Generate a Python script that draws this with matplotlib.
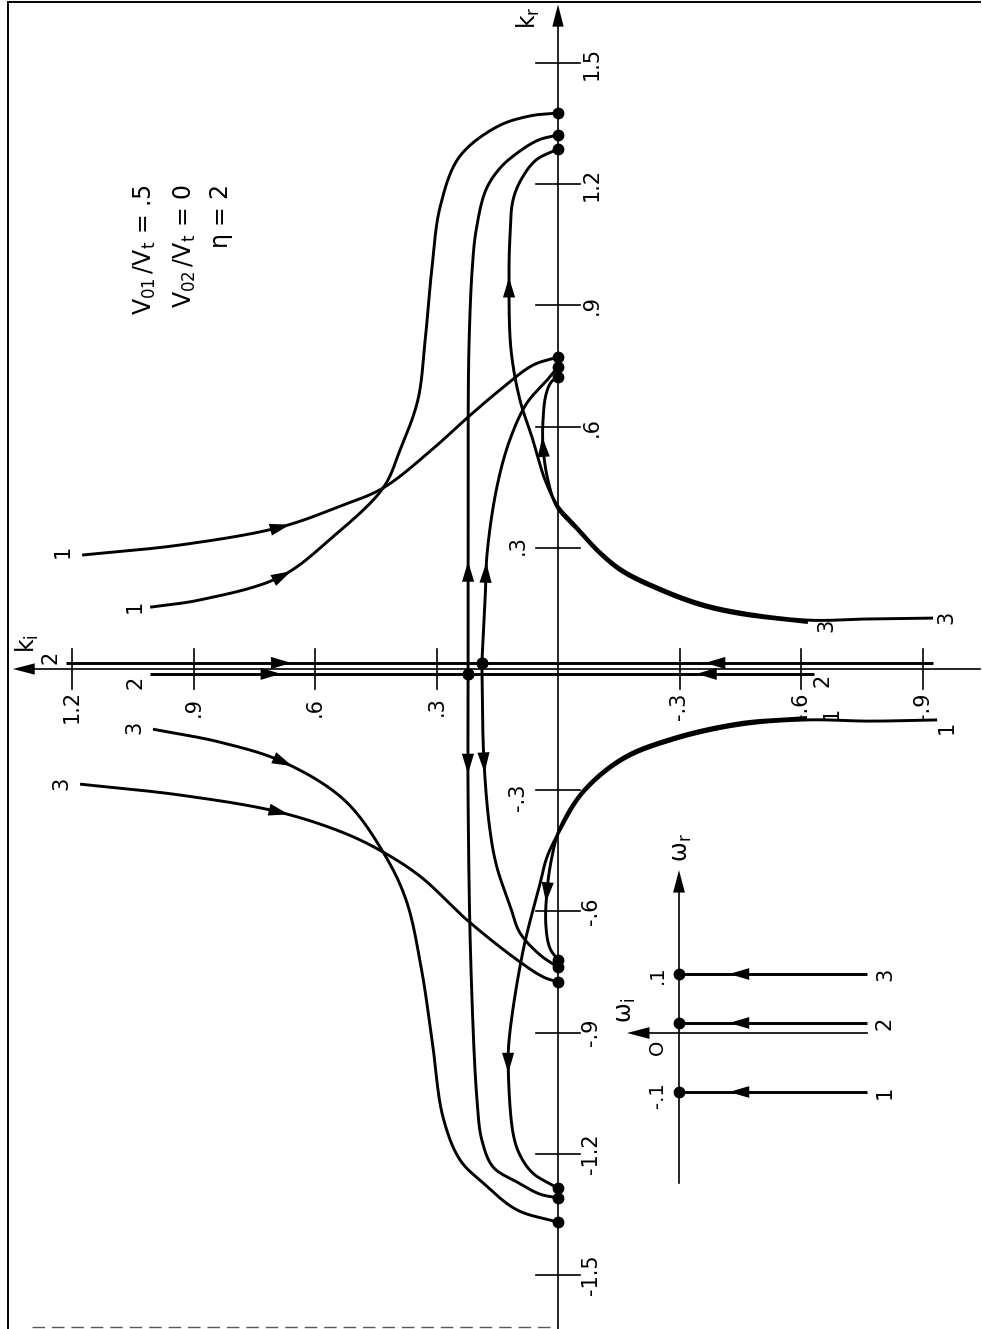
import numpy as np
import matplotlib
matplotlib.use("Agg")
import matplotlib.pyplot as plt

plt.rcParams['font.family'] = ['DejaVu Sans']
plt.rcParams['mathtext.default'] = 'regular'

# ---- k-plane loci (k_i, k_r) for the three omega_r cases ----
# case 1, upper half, coming in from large positive k_i
ki_1a = [1.175, 0.933, 0.686, 0.538, 0.432, 0.309, 0.225, 0.143, 0.062, 0.0]
kr_1a = [0.282, 0.307, 0.351, 0.403, 0.448, 0.545, 0.621, 0.691, 0.752, 0.772]
ki_1b = [1.007, 0.884, 0.686, 0.556, 0.432, 0.390, 0.346, 0.328, 0.311, 0.291, 0.244, 0.151, 0.069, 0.0]
kr_1b = [0.153, 0.171, 0.228, 0.327, 0.448, 0.542, 0.666, 0.814, 0.995, 1.144, 1.267, 1.342, 1.369, 1.376]

# case 1, lower half, coming in from large negative k_i
ki_1a_lo = [-0.615, -0.449, -0.284, -0.160, -0.062, -0.005, 0.015, 0.027, 0.030, 0.020, 0.0]
kr_1a_lo = [-0.120, -0.133, -0.170, -0.219, -0.301, -0.393, -0.465, -0.547, -0.634, -0.691, -0.720]
ki_1b_lo = [-0.936, -0.770, -0.615, -0.449, -0.284, -0.160, -0.062, -0.005, 0.027, 0.044,
            0.086, 0.119, 0.123, 0.111, 0.094, 0.062, 0.0]
kr_1b_lo = [-0.126, -0.129, -0.126, -0.139, -0.176, -0.225, -0.307, -0.399, -0.465, -0.530,
            -0.696, -0.901, -0.975, -1.149, -1.203, -1.248, -1.285]

# case 2, along the k_i axis to the saddle, then up and down
kr_2_upper = 0.015
kr_2_lower = -0.012
ki_2_upper = [1.215, 0.188, -0.926]
ki_2_lower = [1.007, 0.222, -0.632]
ki_2a_up = [0.222, 0.222, 0.222, 0.220, 0.212, 0.202, 0.178, 0.143, 0.101, 0.049, 0.0]
kr_2a_up = [-0.012, 0.270, 0.542, 0.790, 0.988, 1.087, 1.186, 1.240, 1.277, 1.309, 1.322]
ki_2a_dn = [0.222, 0.222, 0.215, 0.200, 0.188, 0.160, 0.101, 0.044, 0.0]
kr_2a_dn = [-0.012, -0.324, -0.738, -1.067, -1.166, -1.233, -1.270, -1.300, -1.309]
ki_2b_up = [0.188, 0.180, 0.175, 0.151, 0.119, 0.077, 0.027, 0.0]
kr_2b_up = [0.015, 0.171, 0.287, 0.450, 0.567, 0.658, 0.715, 0.748]
ki_2b_dn = [0.188, 0.183, 0.168, 0.151, 0.119, 0.094, 0.044, 0.0]
kr_2b_dn = [0.015, -0.225, -0.399, -0.490, -0.584, -0.653, -0.708, -0.738]

# case 3, upper half, coming in from large negative k_i
ki_3a = [-0.617, -0.449, -0.351, -0.252, -0.160, -0.104, -0.049, 0.002, 0.025, 0.037,
         0.037, 0.030, 0.017, 0.0]
kr_3a = [0.115, 0.135, 0.157, 0.194, 0.239, 0.284, 0.343, 0.400, 0.468, 0.550,
         0.616, 0.678, 0.710, 0.723]
ki_3b = [-0.926, -0.770, -0.617, -0.449, -0.351, -0.252, -0.160, -0.104, -0.049, 0.002,
         0.032, 0.062, 0.094, 0.116, 0.121, 0.119, 0.111, 0.089, 0.054, 0.0]
kr_3b = [0.126, 0.124, 0.121, 0.141, 0.163, 0.200, 0.245, 0.290, 0.349, 0.406,
         0.468, 0.567, 0.666, 0.790, 0.955, 1.062, 1.161, 1.215, 1.260, 1.287]

# case 3, lower half, coming in from large positive k_i
ki_3a_lo = [1.180, 0.933, 0.689, 0.528, 0.432, 0.338, 0.225, 0.101, 0.037, 0.0]
kr_3a_lo = [-0.285, -0.312, -0.354, -0.406, -0.453, -0.515, -0.621, -0.720, -0.762, -0.775]
ki_3b_lo = [1.000, 0.835, 0.679, 0.528, 0.432, 0.375, 0.338, 0.311, 0.284, 0.242, 0.185, 0.101, 0.0]
kr_3b_lo = [-0.149, -0.181, -0.230, -0.324, -0.453, -0.572, -0.738, -0.918, -1.109, -1.215,
            -1.272, -1.339, -1.369]

# axis ticks (the +-.3 labels on k_r sit left of the axis, clear of the loci)
kr_ticks = [1.5, 1.2, 0.9, 0.6, 0.3, -0.3, -0.6, -0.9, -1.2, -1.5]
kr_tick_labels = ['1.5', '1.2', '.9', '.6', '.3', '-.3', '-.6', '-.9', '-1.2', '-1.5']
kr_label_left = [False, False, False, False, True, True, False, False, False, False]
ki_ticks = [1.2, 0.9, 0.6, 0.3, -0.3, -0.6, -0.9]
ki_tick_labels = ['1.2', '.9', '.6', '.3', '-.3', '-.6', '-.9']

# omega-plane paths: omega_i runs from -0.32 up to 0 at fixed omega_r
omega_r_paths = [0.1, 0.017, -0.1]
omega_r_names = ['3', '2', '1']
omega_i_start = -0.319

params = [r'$V_{01}\,/V_t$ = .5', r'$V_{02}\,/V_t$ = 0', r'$\eta$ = 2']


def smooth(ki, kr, n=30):
    # centripetal Catmull-Rom through the read points, x = -k_i
    p = np.column_stack([-np.asarray(ki, float), np.asarray(kr, float)])
    p = np.vstack([2 * p[0] - p[1], p, 2 * p[-1] - p[-2]])
    out = []
    for i in range(1, len(p) - 2):
        p0, p1, p2, p3 = p[i - 1], p[i], p[i + 1], p[i + 2]
        t0 = 0.0
        t1 = t0 + np.hypot(*(p1 - p0)) ** 0.5
        t2 = t1 + np.hypot(*(p2 - p1)) ** 0.5
        t3 = t2 + np.hypot(*(p3 - p2)) ** 0.5
        t = np.linspace(t1, t2, n)[:, None]
        a1 = (t1 - t) / (t1 - t0) * p0 + (t - t0) / (t1 - t0) * p1
        a2 = (t2 - t) / (t2 - t1) * p1 + (t - t1) / (t2 - t1) * p2
        a3 = (t3 - t) / (t3 - t2) * p2 + (t - t2) / (t3 - t2) * p3
        b1 = (t2 - t) / (t2 - t0) * a1 + (t - t0) / (t2 - t0) * a2
        b2 = (t3 - t) / (t3 - t1) * a2 + (t - t1) / (t3 - t1) * a3
        c = (t2 - t) / (t2 - t1) * b1 + (t - t1) / (t2 - t1) * b2
        out.append(c if i == 1 else c[1:])
    c = np.vstack(out)
    return c[:, 0], c[:, 1]


def arrow_head(ax, xs, ys, at, length=0.05, width=0.03):
    i = np.argmin((xs - at[0]) ** 2 + (ys - at[1]) ** 2)
    i0, i1 = max(i - 3, 0), min(i + 3, len(xs) - 1)
    d = np.array([xs[i1] - xs[i0], ys[i1] - ys[i0]])
    d /= np.hypot(*d)
    nrm = np.array([-d[1], d[0]])
    c = np.array([xs[i], ys[i]])
    tip = c + d * length / 2
    base = c - d * length / 2
    tri = np.array([tip, base + nrm * width / 2, base - nrm * width / 2])
    ax.fill(tri[:, 0], tri[:, 1], color='k', lw=0, zorder=4)


fig = plt.figure(figsize=(9.82, 13.29), dpi=100)
ax = fig.add_axes([0, 0, 1, 1])
ax.set_xlim(-558 / 405, 424 / 405)
ax.set_ylim(-660 / 404, 669 / 404)
ax.axis('off')

# page frame
ax.plot([-1.358, -1.358], [-1.634, 1.651], color='k', lw=1.4)
ax.plot([-1.358, 1.042], [1.651, 1.651], color='k', lw=1.4)
ax.plot([-1.30, 0.0], [-1.628, -1.628], color='0.35', lw=1.0, dashes=(9, 5))

# axes: x = -k_i, y = k_r
ax.plot([0, 0], [-1.634, 1.60], color='k', lw=1.2)
ax.fill([0, -0.014, 0.014], [1.645, 1.590, 1.590], color='k', lw=0)
ax.plot([-1.30, 1.042], [0, 0], color='k', lw=1.2)
ax.fill([-1.346, -1.292, -1.292], [0, 0.014, -0.014], color='k', lw=0)
ax.text(-0.074, 1.611, '$k_r$', rotation=90, ha='center', va='center', fontsize=17)
ax.text(-1.309, 0.064, '$k_i$', rotation=90, ha='center', va='center', fontsize=17)

for v, lab, left in zip(kr_ticks, kr_tick_labels, kr_label_left):
    ax.plot([-0.055, 0.055], [v, v], color='k', lw=1.2)
    off = (-29, -5 if v < 0 else 2) if left else (24, 0)
    ax.annotate(lab, (0, v), xytext=off, textcoords='offset points',
                rotation=90, ha='center', va='center', fontsize=15)
for v, lab in zip(ki_ticks, ki_tick_labels):
    ax.plot([-v, -v], [-0.05, 0.05], color='k', lw=1.2)
    ax.annotate(lab, (-v, 0), xytext=(0, -27), textcoords='offset points',
                rotation=90, ha='center', va='center', fontsize=15)

# loci: (k_i, k_r, arrow positions)
branches = [
    (ki_1a, kr_1a, [(0.686, 0.351)]),
    (ki_1b, kr_1b, [(0.681, 0.233)]),
    (ki_1a_lo, kr_1a_lo, [(0.032, -0.554)]),
    (ki_1b_lo, kr_1b_lo, [(0.123, -0.975)]),
    (ki_2_upper[:2], [kr_2_upper] * 2, [(0.696, kr_2_upper)]),
    (ki_2_upper[:0:-1], [kr_2_upper] * 2, [(-0.370, kr_2_upper)]),
    (ki_2_lower[:2], [kr_2_lower] * 2, [(0.696, kr_2_lower)]),
    (ki_2_lower[:0:-1], [kr_2_lower] * 2, [(-0.370, kr_2_lower)]),
    (ki_2a_up, kr_2a_up, [(0.222, 0.238)]),
    (ki_2a_dn, kr_2a_dn, [(0.222, -0.233)]),
    (ki_2b_up, kr_2b_up, [(0.178, 0.238)]),
    (ki_2b_dn, kr_2b_dn, [(0.180, -0.233)]),
    (ki_3a, kr_3a, [(0.037, 0.550)]),
    (ki_3b, kr_3b, [(0.121, 0.946)]),
    (ki_3a_lo, kr_3a_lo, [(0.689, -0.354)]),
    (ki_3b_lo, kr_3b_lo, [(0.679, -0.230)]),
]
for ki, kr, arrows in branches:
    xs, ys = smooth(ki, kr)
    ax.plot(xs, ys, color='k', lw=2.1, solid_capstyle='butt', zorder=3)
    for a in arrows:
        arrow_head(ax, xs, ys, (-a[0], a[1]))
    ax.plot(xs[-1], ys[-1], 'o', ms=7.5, color='k', zorder=5)

curve_labels = [
    ('1', 1.222, 0.292), ('1', 1.044, 0.156), ('1', -0.677, -0.109), ('1', -0.960, -0.144),
    ('2', 1.254, 0.030), ('2', 1.044, -0.032), ('2', -0.654, -0.027),
    ('3', -0.662, 0.109), ('3', -0.958, 0.129), ('3', 1.227, -0.282), ('3', 1.047, -0.144),
]
for s, ki, kr in curve_labels:
    ax.text(-ki, kr, s, rotation=90, ha='center', va='center', fontsize=15)

for s, x in zip(params, [-1.020, -0.921, -0.830]):
    ax.text(x, 1.200, s, rotation=90, ha='center', va='top', fontsize=17)

# omega plane, x = -omega_i, y = omega_r
ax2 = fig.add_axes([600 / 982, 1 - 1200 / 1329, 320 / 982, 365 / 1329])
ax2.set_xlim(-79 / 590, 241 / 590)
ax2.set_ylim(-167 / 590, 198 / 590)
ax2.axis('off')
ax2.patch.set_alpha(0)
ax2.plot([0, 0], [-0.254, 0.25], color='k', lw=1.2)
ax2.fill([0, -0.01, 0.01], [0.276, 0.238, 0.238], color='k', lw=0)
ax2.plot([-0.065, -omega_i_start], [0, 0], color='k', lw=1.2)
ax2.fill([-0.088, -0.05, -0.05], [0, 0.01, -0.01], color='k', lw=0)
ax2.text(0.005, 0.314, r'$\omega_r$', rotation=90, ha='center', va='center', fontsize=17)
ax2.text(-0.090, 0.039, r'$\omega_i$', rotation=90, ha='center', va='center', fontsize=17)
ax2.text(-0.036, 0.098, '.1', rotation=90, ha='center', va='center', fontsize=14)
ax2.text(-0.037, -0.024, 'O', rotation=90, ha='center', va='center', fontsize=14)
ax2.text(-0.036, -0.105, '-.1', rotation=90, ha='center', va='center', fontsize=14)
for wr, name in zip(omega_r_paths, omega_r_names):
    xs = np.array([-omega_i_start, 0.0])
    ys = np.array([wr, wr])
    ax2.plot(xs, ys, color='k', lw=2.1, solid_capstyle='butt')
    ax2.fill([0.085, 0.119, 0.119], [wr, wr + 0.01, wr - 0.01], color='k', lw=0)
    ax2.plot(0, wr, 'o', ms=7.5, color='k')
    ax2.text(0.349, wr, name, rotation=90, ha='center', va='center', fontsize=15)

fig.savefig('out.png', dpi=100)
